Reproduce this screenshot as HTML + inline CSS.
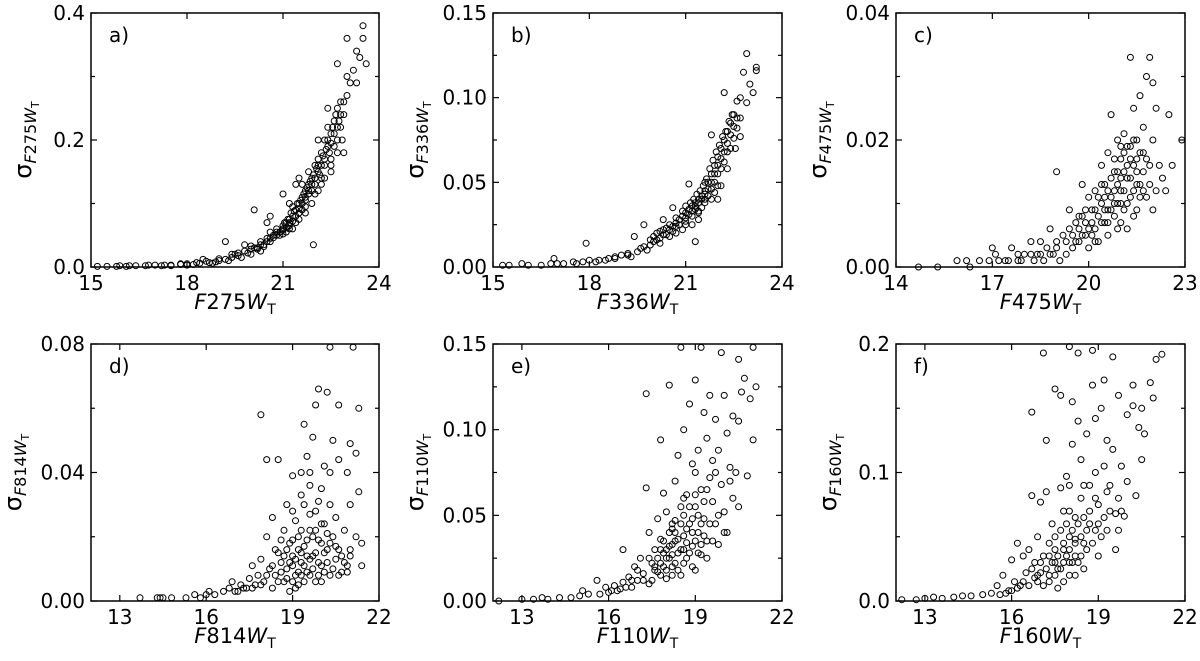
<!DOCTYPE html>
<html><head><meta charset="utf-8">
<style>
html,body{margin:0;padding:0;background:#fff;}
svg{display:block;font-family:"DejaVu Sans","Liberation Sans",sans-serif;}
</style></head>
<body>
<svg id="fig" width="1200" height="661" viewBox="0 0 1200 661" xmlns="http://www.w3.org/2000/svg"></svg>
<script>
const ptsA=[[15.2,.001],[15.5,.001],[15.8,.001],[16.1,.001],[16.4,.002],[16.7,.002],[17.0,.003],[17.2,.002],[17.5,.003],[17.8,.004],[18.0,.005],[18.2,.004],[18.4,.006],[18.5,.012],[18.7,.007],[18.9,.008],[19.0,.010],[19.2,.012],[19.2,.04],[19.4,.015],[19.5,.02],[19.6,.018],[19.8,.025],[19.8,.035],[19.9,.022],[20.0,.028],[20.1,.09],[20.2,.03],[20.3,.04],[20.4,.035],[20.5,.07],[20.6,.08],[20.6,.045],[20.7,.05],[20.8,.06],[20.9,.055],[21.0,.065],[21.0,.115],[21.1,.07],[21.2,.1],[21.2,.075],[21.3,.08],[21.3,.095],[21.4,.13],[21.4,.09],[21.5,.14],[21.5,.1],[21.6,.11],[21.6,.09],[21.7,.12],[21.7,.105],[21.8,.13],[21.8,.115],[21.9,.14],[21.9,.12],[21.95,.035],[22.0,.16],[22.0,.13],[22.1,.15],[22.1,.17],[22.2,.14],[22.2,.18],[22.3,.16],[22.3,.2],[22.4,.19],[22.4,.22],[22.5,.21],[22.5,.17],[22.6,.23],[22.6,.19],[22.7,.25],[22.7,.2],[22.8,.22],[22.8,.26],[22.9,.24],[22.9,.18],[23.0,.27],[23.0,.3],[23.1,.29],[23.2,.31],[23.3,.34],[23.4,.33],[23.5,.38],[23.6,.32],[23.5,.36],[23.3,.29],[22.7,.32],[23.0,.36],[20.5,.04],[20.8,.05],[21.0,.06],[21.2,.07],[21.5,.085],[21.7,.095],[22.0,.115],[22.2,.13],[22.5,.15],[21.1,.055],[20.0,.02],[19.7,.015],[19.3,.01],[18.8,.006],[18.0,.003],[17.5,.002],[21.8,.15],[22.1,.2],[22.4,.25],[21.6,.13]];
const ptsA2=[[20.1,.03],[20.2,.028],[20.3,.035],[20.4,.032],[20.5,.045],[20.6,.04],[20.7,.046],[20.8,.055],[20.9,.05],[21.0,.058],[21.05,.07],[21.1,.062],[21.15,.075],[21.2,.065],[21.25,.085],[21.3,.072],[21.35,.088],[21.4,.08],[21.45,.1],[21.5,.092],[21.55,.105],[21.6,.1],[21.65,.115],[21.7,.11],[21.75,.125],[21.8,.12],[21.85,.135],[21.9,.13],[21.95,.145],[22.0,.14],[22.05,.155],[22.1,.16],[22.15,.145],[22.2,.16],[22.25,.175],[22.3,.17],[22.35,.185],[22.4,.2],[22.45,.18],[22.5,.195],[22.55,.22],[22.6,.21],[22.65,.24],[22.7,.22],[22.75,.23],[22.8,.24],[22.85,.2],[22.9,.26],[21.3,.06],[21.5,.075],[21.7,.085],[21.9,.1],[22.1,.12],[22.3,.14],[22.5,.16],[22.7,.18],[20.6,.055],[20.3,.025],[20.0,.033],[19.6,.022],[19.4,.02],[19.0,.013],[18.6,.009],[18.3,.007],[17.8,.005],[17.3,.003],[16.8,.003],[16.2,.002],[15.9,.002],[21.0,.052],[21.2,.06],[21.4,.07]];
const ptsB=[[15.3,.001],[15.5,.001],[15.9,.002],[16.1,.001],[16.5,.001],[16.8,.002],[16.9,.005],[17.2,.002],[17.5,.003],[17.8,.003],[17.9,.014],[18.0,.004],[18.3,.004],[18.6,.005],[18.8,.006],[19.0,.007],[19.2,.008],[19.4,.018],[19.5,.009],[19.7,.025],[19.7,.012],[19.9,.013],[20.0,.015],[20.1,.02],[20.2,.017],[20.3,.028],[20.4,.019],[20.5,.022],[20.6,.035],[20.6,.024],[20.7,.026],[20.8,.028],[20.9,.03],[21.0,.032],[21.0,.025],[21.1,.049],[21.1,.034],[21.2,.036],[21.3,.015],[21.3,.038],[21.4,.04],[21.4,.032],[21.5,.042],[21.5,.035],[21.6,.045],[21.6,.038],[21.7,.05],[21.7,.042],[21.8,.055],[21.8,.046],[21.8,.078],[21.9,.06],[21.9,.05],[22.0,.065],[22.0,.055],[22.0,.04],[22.1,.07],[22.1,.058],[22.2,.075],[22.2,.062],[22.2,.103],[22.3,.08],[22.3,.068],[22.4,.085],[22.4,.07],[22.5,.09],[22.5,.076],[22.6,.098],[22.6,.082],[22.7,.1],[22.7,.088],[22.8,.115],[22.9,.126],[22.9,.097],[23.0,.108],[23.1,.103],[23.2,.116],[23.2,.118],[21.4,.033],[21.6,.04],[21.2,.03],[20.9,.022],[20.5,.018],[20.2,.014],[19.8,.01],[19.3,.006],[18.5,.004],[22.1,.048],[22.3,.058],[21.9,.044],[20.7,.02],[21.0,.027],[21.3,.034]];
const ptsB2=[[20.0,.018],[20.1,.016],[20.2,.021],[20.3,.019],[20.4,.023],[20.5,.025],[20.6,.021],[20.7,.029],[20.8,.025],[20.9,.033],[21.0,.029],[21.1,.031],[21.15,.038],[21.2,.033],[21.25,.04],[21.3,.036],[21.35,.043],[21.4,.038],[21.45,.045],[21.5,.04],[21.55,.048],[21.6,.043],[21.65,.052],[21.7,.046],[21.75,.058],[21.8,.05],[21.85,.063],[21.9,.055],[21.95,.068],[22.0,.06],[22.05,.072],[22.1,.064],[22.15,.077],[22.2,.068],[22.25,.08],[22.3,.073],[22.35,.086],[22.4,.078],[22.45,.09],[22.5,.083],[22.55,.07],[22.6,.088],[22.7,.077],[21.6,.05],[21.8,.04],[22.0,.048],[21.4,.028],[21.2,.025],[19.6,.011],[19.2,.007],[18.8,.005],[18.2,.003],[17.6,.002],[17.0,.002],[19.9,.016],[20.3,.022],[20.7,.024],[21.0,.036]];
const ptsC=[[14.7,0],[15.3,0],[15.9,.001],[16.2,.001],[16.3,0],[16.6,.001],[16.9,.001],[17.0,.003],[17.1,.002],[17.2,.001],[17.5,.001],[17.6,.003],[17.8,.002],[17.9,.001],[18.0,.002],[18.2,.004],[18.3,.001],[18.4,.002],[18.5,.004],[18.6,.001],[18.7,.003],[18.8,.006],[18.9,.002],[19.0,.015],[19.0,.004],[19.1,.001],[19.2,.005],[19.3,.002],[19.4,.009],[19.4,.006],[19.5,.003],[19.6,.007],[19.7,.004],[19.8,.013],[19.8,.008],[19.9,.005],[20.0,.011],[20.0,.003],[20.1,.009],[20.2,.006],[20.2,.012],[20.3,.004],[20.4,.01],[20.4,.016],[20.5,.007],[20.5,.013],[20.6,.018],[20.6,.005],[20.7,.024],[20.7,.011],[20.8,.008],[20.8,.015],[20.9,.02],[20.9,.006],[21.0,.017],[21.0,.012],[21.1,.009],[21.1,.021],[21.2,.014],[21.2,.019],[21.3,.033],[21.3,.011],[21.4,.025],[21.4,.016],[21.5,.02],[21.5,.009],[21.6,.027],[21.6,.013],[21.7,.022],[21.7,.018],[21.8,.03],[21.8,.011],[21.9,.033],[21.9,.016],[22.0,.02],[22.0,.029],[22.1,.012],[22.1,.025],[22.2,.016],[22.3,.014],[22.4,.012],[22.5,.024],[22.6,.016],[22.9,.02],[20.3,.008],[20.6,.009],[20.9,.013],[21.1,.015],[21.3,.017],[21.0,.007],[20.8,.01],[19.7,.006],[19.9,.007],[20.1,.005],[21.5,.013],[21.7,.015]];
const ptsC2=[[19.5,.005],[19.6,.004],[19.7,.008],[19.8,.005],[19.9,.009],[20.0,.006],[20.1,.007],[20.2,.009],[20.3,.011],[20.4,.007],[20.5,.009],[20.5,.011],[20.6,.012],[20.6,.007],[20.7,.009],[20.7,.014],[20.8,.012],[20.8,.017],[20.9,.01],[20.9,.015],[21.0,.014],[21.0,.01],[21.1,.012],[21.1,.018],[21.2,.01],[21.2,.016],[21.3,.014],[21.3,.019],[21.4,.012],[21.4,.02],[21.5,.017],[21.5,.015],[21.6,.018],[21.6,.011],[21.7,.012],[21.8,.017],[21.9,.013],[22.0,.009],[19.0,.003],[18.8,.002],[18.5,.002],[18.2,.002],[17.8,.001],[17.4,.001],[19.3,.004],[20.2,.004],[20.4,.013],[21.0,.019],[21.2,.006],[21.4,.008]];
const ptsD=[[13.7,.001],[14.3,.001],[14.4,.001],[14.5,.001],[14.8,.001],[15.3,.001],[15.6,.002],[15.8,.001],[16.0,.002],[16.1,.003],[16.3,.002],[16.6,.003],[16.8,.004],[16.9,.006],[17.1,.003],[17.2,.005],[17.4,.004],[17.5,.007],[17.6,.011],[17.7,.005],[17.8,.008],[17.9,.058],[17.9,.013],[18.0,.006],[18.1,.044],[18.1,.02],[18.2,.01],[18.3,.026],[18.3,.004],[18.4,.008],[18.5,.044],[18.5,.015],[18.6,.012],[18.7,.006],[18.7,.022],[18.8,.03],[18.8,.01],[18.9,.018],[18.9,.003],[19.0,.039],[19.0,.014],[19.1,.008],[19.1,.025],[19.2,.02],[19.2,.005],[19.3,.04],[19.3,.012],[19.4,.055],[19.4,.03],[19.4,.017],[19.5,.009],[19.5,.045],[19.6,.036],[19.6,.022],[19.7,.014],[19.7,.051],[19.8,.061],[19.8,.028],[19.8,.006],[19.9,.066],[19.9,.019],[20.0,.035],[20.0,.011],[20.1,.042],[20.1,.024],[20.2,.065],[20.2,.016],[20.3,.079],[20.3,.03],[20.3,.008],[20.4,.05],[20.4,.02],[20.5,.013],[20.5,.026],[20.6,.061],[20.6,.044],[20.6,.016],[20.7,.009],[20.8,.022],[20.9,.04],[20.9,.011],[21.0,.049],[21.0,.03],[21.0,.014],[21.1,.079],[21.2,.046],[21.2,.02],[21.3,.06],[21.3,.034],[21.4,.018],[21.4,.011],[19.3,.015],[19.6,.013],[19.0,.011],[18.8,.016],[20.0,.018],[19.2,.009]];
const ptsD2=[[18.5,.006],[18.6,.009],[18.7,.014],[18.8,.007],[18.9,.012],[19.0,.006],[19.0,.019],[19.1,.013],[19.1,.004],[19.2,.016],[19.3,.008],[19.3,.022],[19.4,.011],[19.4,.006],[19.5,.014],[19.5,.019],[19.6,.008],[19.6,.027],[19.7,.02],[19.7,.01],[19.8,.015],[19.8,.022],[19.9,.012],[19.9,.008],[20.0,.024],[20.0,.006],[20.1,.015],[20.1,.009],[20.2,.021],[20.2,.012],[20.3,.018],[20.4,.01],[20.5,.017],[20.6,.008],[20.7,.014],[20.8,.012],[20.9,.009],[21.0,.016],[18.3,.011],[18.1,.008],[17.9,.005],[17.6,.004],[17.3,.004],[17.0,.003],[18.4,.016],[18.6,.019],[19.0,.028],[19.3,.033],[19.6,.04],[19.9,.031],[20.3,.04]];
const ptsE=[[12.2,0],[13.0,.001],[13.4,.001],[13.7,.002],[13.9,.001],[14.3,.002],[14.7,.002],[15.0,.003],[15.1,.006],[15.3,.004],[15.6,.012],[15.7,.004],[15.9,.008],[16.0,.005],[16.2,.009],[16.3,.006],[16.5,.03],[16.5,.011],[16.7,.014],[16.8,.008],[16.9,.02],[17.0,.012],[17.1,.025],[17.2,.016],[17.3,.066],[17.3,.121],[17.4,.04],[17.4,.01],[17.5,.022],[17.6,.03],[17.7,.048],[17.7,.017],[17.8,.094],[17.8,.036],[17.9,.028],[17.9,.063],[18.0,.052],[18.0,.013],[18.1,.126],[18.1,.04],[18.2,.033],[18.2,.02],[18.3,.07],[18.3,.047],[18.4,.085],[18.4,.028],[18.5,.148],[18.5,.055],[18.5,.015],[18.6,.1],[18.6,.038],[18.7,.062],[18.7,.025],[18.8,.115],[18.8,.045],[18.9,.08],[18.9,.032],[19.0,.129],[19.0,.055],[19.0,.018],[19.1,.088],[19.1,.04],[19.2,.148],[19.2,.065],[19.2,.027],[19.3,.11],[19.3,.048],[19.4,.095],[19.4,.035],[19.5,.12],[19.5,.072],[19.6,.058],[19.6,.082],[19.7,.106],[19.7,.045],[19.8,.088],[19.8,.033],[19.9,.145],[19.9,.068],[20.0,.12],[20.0,.052],[20.1,.098],[20.1,.04],[20.2,.078],[20.3,.108],[20.3,.06],[20.4,.075],[20.5,.141],[20.5,.105],[20.5,.055],[20.6,.122],[20.7,.13],[20.8,.073],[20.9,.118],[21.0,.094],[21.0,.148],[21.1,.125],[18.0,.025],[18.3,.035],[18.6,.03],[17.8,.022],[18.9,.04],[18.2,.042],[17.6,.018],[19.2,.033]];
const ptsE2=[[17.5,.012],[17.6,.02],[17.7,.025],[17.8,.015],[17.9,.02],[17.9,.035],[18.0,.03],[18.0,.018],[18.1,.025],[18.1,.032],[18.2,.027],[18.2,.015],[18.3,.022],[18.3,.04],[18.4,.036],[18.4,.018],[18.5,.03],[18.5,.045],[18.6,.022],[18.6,.05],[18.7,.034],[18.7,.042],[18.8,.028],[18.8,.055],[18.9,.048],[18.9,.02],[19.0,.035],[19.0,.062],[19.1,.028],[19.1,.05],[19.2,.045],[19.3,.038],[19.3,.058],[19.4,.025],[19.5,.045],[19.6,.035],[19.8,.05],[20.0,.04],[17.2,.012],[17.0,.018],[16.8,.012],[16.6,.008],[16.4,.007],[16.1,.006],[17.4,.025],[17.8,.03],[18.2,.045],[18.6,.06],[19.0,.075],[19.4,.065],[19.7,.075],[20.2,.07]];
const ptsF=[[12.2,.001],[12.7,.001],[13.0,.002],[13.3,.003],[13.6,.002],[14.0,.003],[14.3,.004],[14.6,.004],[15.0,.005],[15.3,.006],[15.5,.012],[15.7,.02],[15.9,.008],[16.0,.032],[16.1,.015],[16.2,.045],[16.3,.012],[16.4,.035],[16.5,.022],[16.6,.04],[16.7,.147],[16.7,.082],[16.8,.018],[16.9,.05],[17.0,.077],[17.0,.03],[17.1,.193],[17.2,.125],[17.2,.085],[17.3,.02],[17.4,.06],[17.5,.165],[17.5,.04],[17.6,.025],[17.7,.16],[17.7,.088],[17.8,.07],[17.8,.03],[17.9,.097],[18.0,.198],[18.0,.05],[18.0,.02],[18.1,.155],[18.1,.122],[18.2,.065],[18.2,.035],[18.3,.193],[18.3,.14],[18.4,.11],[18.4,.08],[18.5,.045],[18.5,.025],[18.6,.13],[18.7,.09],[18.7,.06],[18.8,.195],[18.8,.168],[18.9,.142],[18.9,.1],[19.0,.035],[19.0,.075],[19.1,.15],[19.2,.172],[19.2,.105],[19.3,.125],[19.3,.055],[19.4,.09],[19.5,.19],[19.5,.118],[19.6,.068],[19.6,.04],[19.7,.16],[19.8,.105],[19.9,.066],[20.0,.145],[20.0,.093],[20.2,.152],[20.2,.168],[20.3,.082],[20.4,.135],[20.5,.11],[20.5,.15],[20.6,.13],[20.8,.17],[20.9,.158],[21.0,.188],[21.2,.192],[17.5,.03],[17.8,.04],[18.2,.048],[18.0,.03],[17.3,.035],[16.9,.02],[18.6,.055],[19.1,.05],[19.7,.055]];
const ptsF2=[[16.6,.012],[16.7,.025],[16.8,.03],[16.9,.015],[17.0,.022],[17.1,.035],[17.1,.012],[17.2,.025],[17.3,.045],[17.3,.015],[17.4,.03],[17.5,.02],[17.5,.05],[17.6,.035],[17.7,.025],[17.7,.055],[17.8,.045],[17.8,.015],[17.9,.035],[17.9,.06],[18.0,.04],[18.0,.07],[18.1,.03],[18.1,.055],[18.2,.045],[18.2,.02],[18.3,.06],[18.3,.03],[18.4,.05],[18.4,.035],[18.5,.065],[18.6,.04],[18.7,.07],[18.8,.045],[18.9,.055],[19.0,.06],[19.2,.065],[19.4,.07],[19.8,.07],[16.2,.01],[16.0,.008],[15.8,.006],[15.6,.005],[16.4,.015],[17.6,.01],[18.0,.09],[18.5,.09],[18.9,.08],[19.3,.085],[19.7,.08]];

const xTicksA=[15,18,21,24], xTicksC=[14,17,20,23], xTicksD=[13,16,19,22];
const yTicksA=["0.0","0.2","0.4"], yTicksB=["0.00","0.05","0.10","0.15"], yTicksC=["0.00","0.02","0.04"];
const yTicksD=["0.00","0.04","0.08"], yTicksE=["0.00","0.05","0.10","0.15"], yTicksF=["0.0","0.1","0.2"];

const panels=[
 {id:'a',pts:ptsA.concat(ptsA2),L:91,T:13,W:288,H:254,x0:15,x1:24,y1:0.4,xt:xTicksA,yt:yTicksA,f:'275'},
 {id:'b',pts:ptsB.concat(ptsB2),L:493,T:13,W:289,H:254,x0:15,x1:24,y1:0.15,xt:xTicksA,yt:yTicksB,f:'336'},
 {id:'c',pts:ptsC.concat(ptsC2),L:896,T:13,W:289,H:254,x0:14,x1:23,y1:0.04,xt:xTicksC,yt:yTicksC,f:'475'},
 {id:'d',pts:ptsD.concat(ptsD2),L:91,T:344,W:288,H:257,x0:12,x1:22,y1:0.08,xt:xTicksD,yt:yTicksD,f:'814'},
 {id:'e',pts:ptsE.concat(ptsE2),L:493,T:344,W:289,H:257,x0:12,x1:22,y1:0.15,xt:xTicksD,yt:yTicksE,f:'110'},
 {id:'f',pts:ptsF.concat(ptsF2),L:896,T:344,W:289,H:257,x0:12,x1:22,y1:0.2,xt:xTicksD,yt:yTicksF,f:'160'}
];
const NS='http://www.w3.org/2000/svg';
const svg=document.getElementById('fig');
function mk(tag,attrs,parent){const e=document.createElementNS(NS,tag);for(const k in attrs)e.setAttribute(k,attrs[k]);(parent||svg).appendChild(e);return e;}
panels.forEach(p=>{
  const g=mk('g',{});
  
  
  const sx=v=>p.L+(v-p.x0)/(p.x1-p.x0)*p.W;
  const sy=v=>p.T+p.H-(v/p.y1)*p.H;
  const pg=mk('g',{fill:'none',stroke:'#000','stroke-width':'1'},g);
  
  
  p.pts.forEach(d=>{
    const c=mk('circle',{cx:sx(d[0]).toFixed(1),cy:sy(d[1]).toFixed(1),r:3},pg);
    
    
  });
  const fr=mk('rect',{x:p.L,y:p.T,width:p.W,height:p.H,fill:'none',stroke:'#000','stroke-width':'1.5'},g);
  
  
  p.xt.forEach(v=>{
    const x=sx(v);
    mk('line',{x1:x,x2:x,y1:p.T+p.H,y2:p.T+p.H-6,stroke:'#000','stroke-width':1.2},g);
    mk('line',{x1:x,x2:x,y1:p.T,y2:p.T+6,stroke:'#000','stroke-width':1.2},g);
    const t=mk('text',{x:x,y:p.T+p.H+23,'text-anchor':'middle','font-size':20},g);
    t.textContent=v;
    
    
  });
  const n=p.yt.length-1;
  for(let i=0;i<=2*n;i++){
    const v=p.y1*i/(2*n), y=sy(v), len=(i%2==0)?6:4;
    mk('line',{x1:p.L,x2:p.L+len,y1:y,y2:y,stroke:'#000','stroke-width':1.2},g);
    mk('line',{x1:p.L+p.W,x2:p.L+p.W-len,y1:y,y2:y,stroke:'#000','stroke-width':1.2},g);
  }
  p.yt.forEach((lab,i)=>{
    const y=sy(p.y1*i/n);
    const t=mk('text',{x:p.L-6,y:y+7,'text-anchor':'end','font-size':20},g);
    t.textContent=lab;
    
    
  });
  const pl=mk('text',{x:p.L+18,y:p.T+29,'font-size':20},g);
  pl.textContent=p.id+')';
  
  
  const xl=mk('text',{x:p.L+p.W/2,y:p.T+p.H+42,'text-anchor':'middle','font-size':21},g);
  xl.innerHTML='<tspan font-style="italic">F</tspan>'+p.f+'<tspan font-style="italic">W</tspan><tspan font-size="14" dy="5">T</tspan>';
  
  
  const lx=p.L-(p.yt[0].length>3?70:60), ly=p.T+p.H/2;
  const yl=mk('text',{x:lx,y:ly,'text-anchor':'middle','font-size':24,transform:'rotate(-90 '+lx+' '+ly+')'},g);
  yl.innerHTML='σ<tspan font-size="16" dy="5" font-style="italic">F</tspan><tspan font-size="16">'+p.f+'</tspan><tspan font-size="16" font-style="italic">W</tspan><tspan font-size="11" dy="3">T</tspan>';
  
  
});
</script>
</body></html>
